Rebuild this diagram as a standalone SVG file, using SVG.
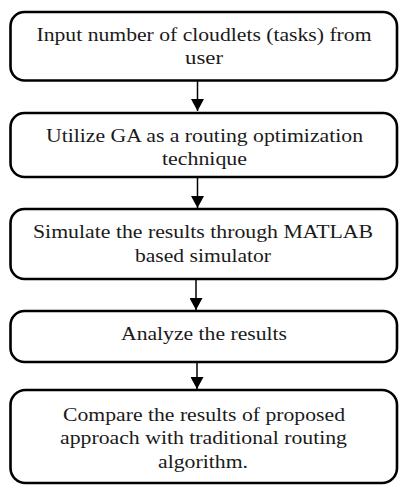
<svg xmlns="http://www.w3.org/2000/svg" width="410" height="493" viewBox="0 0 410 493">
<style>
.box{fill:#fff;stroke:#000;stroke-width:2.6}
.t{font-family:'Liberation Serif',Tinos,'Times New Roman',serif;font-size:18px;fill:#1a1a1a;text-anchor:middle}
.c{stroke:#000;stroke-width:1.5;fill:none}
</style>
<defs>
<marker id="ah" markerWidth="13" markerHeight="13" refX="12" refY="6.5" orient="auto" markerUnits="userSpaceOnUse">
<path d="M0,0 L12,6.5 L0,13 Z" fill="#000"/>
</marker>
</defs>
<rect width="410" height="493" fill="#fff"/>
<g id="connectors">
<line class="c" x1="197.5" y1="81" x2="197.5" y2="111" marker-end="url(#ah)"/>
<line class="c" x1="197.5" y1="177" x2="197.5" y2="208" marker-end="url(#ah)"/>
<line class="c" x1="196" y1="280" x2="196" y2="310" marker-end="url(#ah)"/>
<line class="c" x1="197" y1="363" x2="197" y2="389" marker-end="url(#ah)"/>
</g>
<g id="n1">
<rect class="box" x="10.5" y="12" width="386.5" height="68.5" rx="14"/>
<text class="t" x="204" y="41" textLength="335" lengthAdjust="spacingAndGlyphs">Input number of cloudlets (tasks) from</text>
<text class="t" x="204" y="64" textLength="38" lengthAdjust="spacingAndGlyphs">user</text>
</g>
<g id="n2">
<rect class="box" x="10.5" y="113" width="386.5" height="64" rx="14"/>
<text class="t" x="204.5" y="142" textLength="317" lengthAdjust="spacingAndGlyphs">Utilize GA as a routing optimization</text>
<text class="t" x="204.5" y="165" textLength="85" lengthAdjust="spacingAndGlyphs">technique</text>
</g>
<g id="n3">
<rect class="box" x="10.5" y="209" width="386.5" height="70" rx="14"/>
<text class="t" x="203" y="238" textLength="340" lengthAdjust="spacingAndGlyphs">Simulate the results through MATLAB</text>
<text class="t" x="203" y="262" textLength="136" lengthAdjust="spacingAndGlyphs">based simulator</text>
</g>
<g id="n4">
<rect class="box" x="10.5" y="311" width="386.5" height="51" rx="14"/>
<text class="t" x="204" y="340" textLength="166" lengthAdjust="spacingAndGlyphs">Analyze the results</text>
</g>
<g id="n5">
<rect class="box" x="10.5" y="390" width="386.5" height="93" rx="15"/>
<text class="t" x="204" y="421" textLength="282" lengthAdjust="spacingAndGlyphs">Compare the results of proposed</text>
<text class="t" x="203.5" y="444" textLength="287" lengthAdjust="spacingAndGlyphs">approach with traditional routing</text>
<text class="t" x="203" y="468" textLength="90" lengthAdjust="spacingAndGlyphs">algorithm.</text>
</g>
</svg>
